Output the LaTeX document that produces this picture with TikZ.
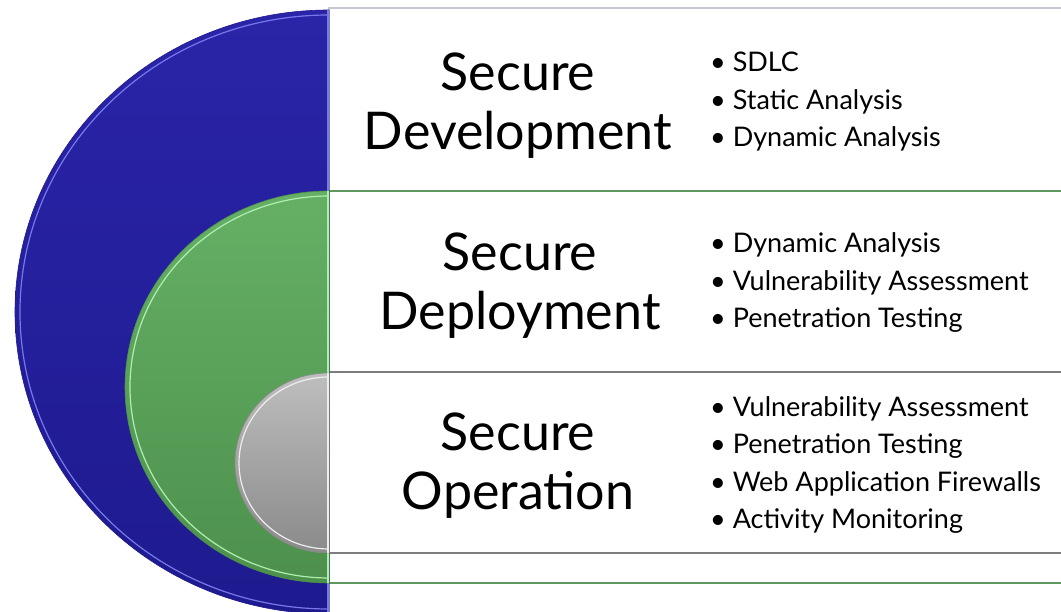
\documentclass[tikz,border=0pt]{standalone}
\usepackage{fontspec}
\setmainfont{Lato}
\definecolor{blueA}{RGB}{42,36,168}
\definecolor{blueB}{RGB}{30,26,142}
\definecolor{blueHi}{RGB}{120,120,235}
\definecolor{greenA}{RGB}{102,176,102}
\definecolor{greenB}{RGB}{76,144,76}
\definecolor{greenHi}{RGB}{175,238,175}
\definecolor{grayA}{RGB}{190,190,190}
\definecolor{grayB}{RGB}{138,138,138}
\definecolor{grayHi}{RGB}{238,238,238}
\definecolor{edgeTop}{RGB}{200,200,210}
\definecolor{edgeGreen}{RGB}{96,150,96}
\definecolor{edgeGray}{RGB}{125,125,125}
\begin{document}
\begin{tikzpicture}[x=1pt,y=1pt]
    \tikzstyle{title} = [align=center, inner sep=0pt, font={\fontsize{52}{59}\selectfont}];
    \tikzstyle{items} = [align=left, anchor=west, inner sep=0pt, font={\fontsize{27}{37.5}\selectfont}];
    \tikzstyle{panel} = [fill=white, line width=1.2pt];
    \tikzstyle{disc} = [line width=0.6pt];
    \tikzstyle{rim} = [line width=1.2pt];
    \useasboundingbox (0,0) rectangle (1061,612);
    \draw[panel, draw=edgeTop] (329,604) rectangle (1080,-20);
    \draw[panel, draw=edgeGreen] (329,421) rectangle (1080,29);
    \draw[panel, draw=edgeGray] (329,240) rectangle (1080,59);
    \path[disc, top color=blueA, bottom color=blueB, draw=blueB] (329,602) arc[start angle=90, end angle=270, x radius=314, y radius=302] -- cycle;
    \draw[rim, blueHi] (329,597) arc[start angle=90, end angle=270, x radius=309, y radius=297];
    \draw[rim, blueHi] (328,602) -- (328,-2);
    \path[disc, top color=greenA, bottom color=greenB, draw=greenB] (329,421) arc[start angle=90, end angle=270, x radius=204, y radius=196] -- cycle;
    \draw[rim, greenHi] (329,416) arc[start angle=90, end angle=270, x radius=199, y radius=191];
    \draw[rim, greenHi] (328,421) -- (328,29);
    \path[disc, top color=grayA, bottom color=grayB, draw=grayB] (329,239) arc[start angle=90, end angle=270, x radius=94, y radius=90] -- cycle;
    \draw[rim, grayHi] (329,235) arc[start angle=90, end angle=270, x radius=90, y radius=86];
    \draw[rim, grayHi] (328,239) -- (328,59);
    \node[title] (dev) at (518,506) {Secure\\Development};
    \node[title] (dep) at (520,326) {Secure\\Deployment};
    \node[title] (ope) at (518,146) {Secure\\Operation};
    \node[items] (devlist) at (710,510) {• SDLC\\• Static Analysis\\• Dynamic Analysis};
    \node[items] (deplist) at (710,329) {• Dynamic Analysis\\• Vulnerability Assessment\\• Penetration Testing};
    \node[items] (opelist) at (710,147) {• Vulnerability Assessment\\• Penetration Testing\\• Web Application Firewalls\\• Activity Monitoring};
\end{tikzpicture}
\end{document}
